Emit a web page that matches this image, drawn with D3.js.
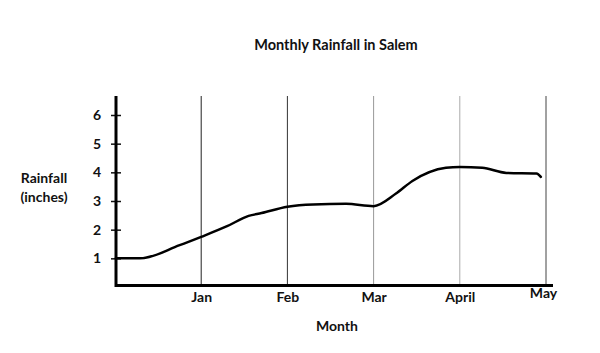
<!DOCTYPE html>
<html>
<head>
<meta charset="utf-8">
<script src="https://cdn.jsdelivr.net/npm/d3@7"></script>
<style>
  body { margin: 0; background: #fff; }
  svg { display: block; }
  text { font-family: Lato, "Open Sans", sans-serif; font-weight: bold; fill: #111; }
</style>
</head>
<body>
<script>
// months sit at whole positions 1..5, line points are read in month units
var months = ['Jan', 'Feb', 'Mar', 'April', 'May'];
var monthPos = [1, 2, 3, 4, 5];
var yTicks = [1, 2, 3, 4, 5, 6];

var rainX = [0.01, 0.29, 0.75, 1.0, 1.3, 1.55, 1.7, 2.0, 2.3, 2.68, 3.0, 3.26, 3.45, 3.84, 4.0, 4.26, 4.54, 4.89, 4.94];
var rainY = [1.0, 1.0, 1.46, 1.75, 2.12, 2.48, 2.58, 2.8, 2.88, 2.9, 2.82, 3.26, 3.7, 4.16, 4.19, 4.16, 3.98, 3.96, 3.84];

var gridColors = ['#222', '#333', '#999', '#aaa', '#444'];

const WIDTH = 600;
const HEIGHT = 353;

var xScale = d3.scaleLinear()
  .domain([0, 5])
  .range([115, 546]);

var yScale = d3.scaleLinear()
  .domain([0, 6])
  .range([287, 115]);

var translate = function(x, y) {
  return 'translate(' + x + ',' + y + ')';
};

var drawChart = function() {
  var svg = d3.select('body').append('svg')
    .attr('width', WIDTH)
    .attr('height', HEIGHT);

  // vertical month lines
  svg.append('g')
    .selectAll('line')
    .data(monthPos)
    .enter()
    .append('line')
    .attr('x1', function(d) { return xScale(d); })
    .attr('x2', function(d) { return xScale(d); })
    .attr('y1', 96)
    .attr('y2', 285)
    .attr('stroke', function(d, i) { return gridColors[i]; })
    .attr('stroke-width', 1);

  // y axis with ticks crossing the line
  var yAxis = d3.axisLeft(yScale)
    .tickValues(yTicks)
    .tickFormat(d3.format('d'))
    .tickSizeInner(5)
    .tickSizeOuter(0)
    .tickPadding(10);

  var gy = svg.append('g')
    .attr('transform', translate(116, 0))
    .call(yAxis);
  gy.select('.domain').remove();
  gy.selectAll('.tick line')
    .attr('x1', -5).attr('x2', 5)
    .attr('stroke', '#111').attr('stroke-width', 1.5);
  gy.selectAll('.tick text')
    .style('font-size', '14px')
    .attr('fill', '#111');

  svg.append('line')
    .attr('x1', 116).attr('x2', 116)
    .attr('y1', 96).attr('y2', 287)
    .attr('stroke', '#000').attr('stroke-width', 3);

  // x axis
  var xAxis = d3.axisBottom(xScale)
    .tickValues(monthPos)
    .tickFormat(function(d, i) { return months[i]; })
    .tickSize(0)
    .tickPadding(7);

  var gx = svg.append('g')
    .attr('transform', translate(0, 285))
    .call(xAxis);
  gx.select('.domain').remove();
  gx.selectAll('.tick text')
    .style('font-size', '14px')
    .attr('fill', '#111')
    .attr('dx', function(d) { return d === 5 ? -3 : 0; })
    .attr('dy', function(d) { return d === 5 ? '0.45em' : '0.71em'; });

  svg.append('line')
    .attr('x1', 115).attr('x2', 553)
    .attr('y1', 285.5).attr('y2', 285.5)
    .attr('stroke', '#000').attr('stroke-width', 3);

  // titles
  svg.append('text')
    .attr('x', 336).attr('y', 50)
    .attr('text-anchor', 'middle')
    .style('font-size', '14.5px')
    .text('Monthly Rainfall in Salem');

  svg.append('text')
    .attr('x', 337).attr('y', 331)
    .attr('text-anchor', 'middle')
    .style('font-size', '14px')
    .text('Month');

  var yl = svg.append('text')
    .attr('text-anchor', 'middle')
    .style('font-size', '14px');
  yl.append('tspan').attr('x', 44).attr('y', 183).text('Rainfall');
  yl.append('tspan').attr('x', 44).attr('y', 202).text('(inches)');
};

var drawLine = function() {
  var points = rainX.map(function(x, i) { return { x: x, y: rainY[i] }; });
  var line = d3.line()
    .x(function(d) { return xScale(d.x); })
    .y(function(d) { return yScale(d.y); })
    .curve(d3.curveMonotoneX);

  d3.select('svg').append('path')
    .attr('d', line(points))
    .attr('fill', 'none')
    .attr('stroke', '#000')
    .attr('stroke-width', 2.5)
    .attr('stroke-linecap', 'round');
};

drawChart();
drawLine();
</script>
</body>
</html>
